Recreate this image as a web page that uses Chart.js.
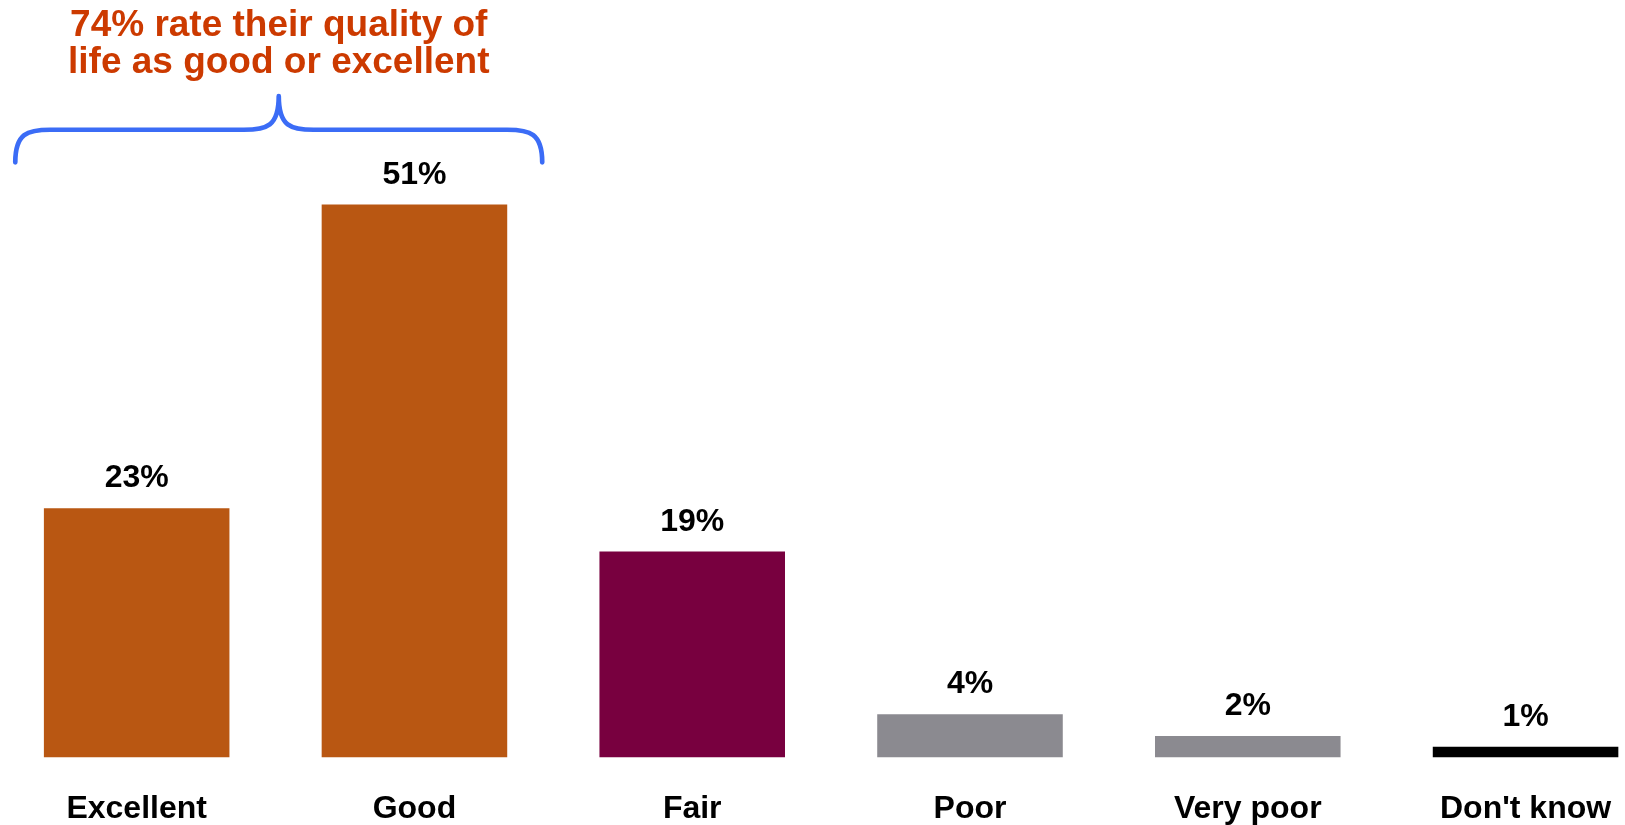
<!DOCTYPE html>
<html>
<head>
<meta charset="utf-8">
<script src="https://cdn.jsdelivr.net/npm/chart.js@4.4.1/dist/chart.umd.min.js"></script>
<style>
  html, body { margin: 0; padding: 0; background: #ffffff; }
  #c { display: block; }
</style>
</head>
<body>
<canvas id="c" width="1625" height="825"></canvas>
<script>
// ---- data ----
const categories = ["Excellent", "Good", "Fair", "Poor", "Very poor", "Don't know"];
const values = [23, 51, 19, 4, 2, 1];
const valueLabels = ["23%", "51%", "19%", "4%", "2%", "1%"];
const barColors = ["#B95712", "#B95712", "#78003F", "#8B8A90", "#8B8A90", "#000000"];
const titleLines = ["74% rate their quality of", "life as good or excellent"];
const bracketCategories = [0, 1]; // Excellent + Good

const FONT = "'Liberation Sans', Arial, Helvetica, sans-serif";

const labelPlugin = {
  id: 'valueLabels',
  afterDatasetsDraw(chart) {
    const ctx = chart.ctx;
    const meta = chart.getDatasetMeta(0);
    ctx.save();
    ctx.font = "bold 32px " + FONT;
    ctx.fillStyle = "#000000";
    ctx.textAlign = "center";
    ctx.textBaseline = "alphabetic";
    meta.data.forEach((bar, i) => {
      ctx.fillText(valueLabels[i], bar.x, bar.y - 21);
    });
    ctx.restore();
  }
};

const bracePlugin = {
  id: 'brace',
  afterDraw(chart) {
    const ctx = chart.ctx;
    const xs = chart.scales.x;
    const ys = chart.scales.y;
    const a = bracketCategories[0], b = bracketCategories[1];
    const x0 = xs.getPixelForValue(a - 0.437);
    const x1 = xs.getPixelForValue(b + 0.46);
    const xm = (x0 + x1) / 2;
    const yEnd = ys.getPixelForValue(54.9);
    const yTop = ys.getPixelForValue(57.9);
    const yTip = ys.getPixelForValue(61.0);
    const rx = 35;
    ctx.save();
    ctx.strokeStyle = "#3B6CF6";
    ctx.lineWidth = 4.7;
    ctx.lineCap = "round";
    ctx.lineJoin = "round";
    ctx.beginPath();
    ctx.moveTo(x0, yEnd);
    ctx.bezierCurveTo(x0, yTop + (yEnd - yTop) * 0.1, x0 + rx * 0.35, yTop, x0 + rx, yTop);
    ctx.lineTo(xm - rx, yTop);
    ctx.bezierCurveTo(xm - rx * 0.35, yTop, xm, yTop - (yTop - yTip) * 0.1, xm, yTip);
    ctx.bezierCurveTo(xm, yTop - (yTop - yTip) * 0.1, xm + rx * 0.35, yTop, xm + rx, yTop);
    ctx.lineTo(x1 - rx, yTop);
    ctx.bezierCurveTo(x1 - rx * 0.35, yTop, x1, yTop + (yEnd - yTop) * 0.1, x1, yEnd);
    ctx.stroke();

    ctx.font = "bold 37px " + FONT;
    ctx.fillStyle = "#CC3A00";
    ctx.textAlign = "center";
    ctx.textBaseline = "alphabetic";
    ctx.fillText(titleLines[0], xm, 36);
    ctx.fillText(titleLines[1], xm, 72.7);
    ctx.restore();
  }
};

new Chart(document.getElementById('c'), {
  type: 'bar',
  data: {
    datasets: [{
      data: values.map((v, i) => ({ x: i, y: v })),
      backgroundColor: barColors,
      borderWidth: 0,
      barPercentage: 0.668,
      categoryPercentage: 1.0
    }]
  },
  options: {
    responsive: false,
    animation: false,
    devicePixelRatio: 1,
    layout: { padding: { top: 107, left: 0, right: 0, bottom: 0 } },
    plugins: { legend: { display: false }, tooltip: { enabled: false }, title: { display: false } },
    scales: {
      x: {
        type: 'linear',
        offset: false,
        min: -0.492,
        max: 5.358,
        grid: { display: false, drawTicks: false, offset: false },
        border: { display: false },
        afterBuildTicks: (scale) => { scale.ticks = categories.map((_, i) => ({ value: i })); },
        afterFit: (scale) => {
          scale.paddingLeft = 0;
          scale.paddingRight = 0;
          scale.height = 67.4;
        },
        ticks: {
          autoSkip: false,
          maxRotation: 0,
          padding: 32,
          color: "#000000",
          font: { family: FONT, size: 32, weight: 'bold' },
          callback: (v) => categories[v] !== undefined ? categories[v] : ''
        }
      },
      y: {
        display: false,
        min: 0,
        max: 60
      }
    }
  },
  plugins: [labelPlugin, bracePlugin]
});
</script>
</body>
</html>
